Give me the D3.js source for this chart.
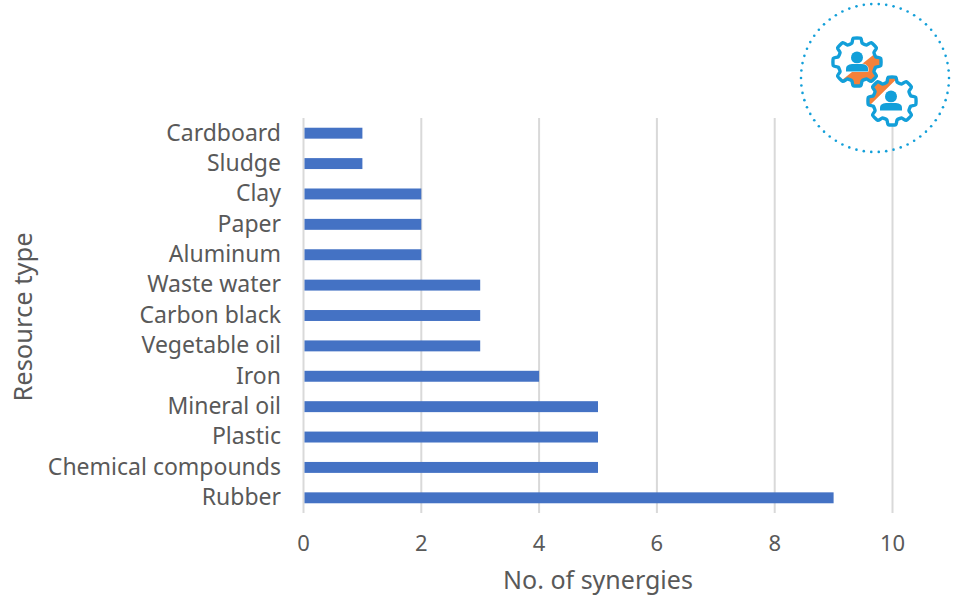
<!DOCTYPE html>
<html>
<head>
<meta charset="utf-8">
<script src="https://cdn.jsdelivr.net/npm/d3@7"></script>
<style>
  html, body { margin: 0; padding: 0; background: #fff; }
  svg { display: block; }
  text { font-family: "Noto Sans", "Open Sans", sans-serif; fill: #595959; }
</style>
</head>
<body>
<svg id="chart"></svg>
<script>
const resources = ["Cardboard", "Sludge", "Clay", "Paper", "Aluminum", "Waste water", "Carbon black",
  "Vegetable oil", "Iron", "Mineral oil", "Plastic", "Chemical compounds", "Rubber"];
const synergies = [1, 1, 2, 2, 2, 3, 3, 3, 4, 5, 5, 5, 9];
const xTicks = [0, 2, 4, 6, 8, 10];

const width = 953;
const height = 595;
const margin = { top: 118, right: 60.5, bottom: 82, left: 303.5 };

const svg = d3.select("#chart").attr("width", width).attr("height", height);

const xScale = d3.scaleLinear().domain([0, 10]).range([margin.left, width - margin.right]);
const yScale = d3.scaleBand().domain(resources).range([margin.top, height - margin.bottom]).paddingInner(0.64).paddingOuter(0.32);

// gridlines
svg.append("g").selectAll("line")
  .data(xTicks)
  .enter()
  .append("line")
  .attr("x1", d => xScale(d))
  .attr("x2", d => xScale(d))
  .attr("y1", margin.top)
  .attr("y2", height - margin.bottom)
  .attr("stroke", "#d9d9d9")
  .attr("stroke-width", 2);

// bars
svg.append("g").selectAll("rect")
  .data(resources)
  .enter()
  .append("rect")
  .attr("x", xScale(0) + 1)
  .attr("y", d => yScale(d))
  .attr("width", (d, i) => xScale(synergies[i]) - xScale(0) - 1)
  .attr("height", yScale.bandwidth())
  .attr("fill", "#4472c4");

// category labels
svg.append("g").selectAll("text")
  .data(resources)
  .enter()
  .append("text")
  .attr("x", 281)
  .attr("y", d => yScale(d) + yScale.bandwidth() / 2)
  .attr("dy", "0.32em")
  .attr("text-anchor", "end")
  .attr("font-size", 23)
  .text(d => d);

// x tick labels
svg.append("g").selectAll("text")
  .data(xTicks)
  .enter()
  .append("text")
  .attr("x", d => xScale(d))
  .attr("y", 551)
  .attr("text-anchor", "middle")
  .attr("font-size", 22)
  .text(d => d);

// axis titles
svg.append("text")
  .attr("x", 598)
  .attr("y", 589)
  .attr("text-anchor", "middle")
  .attr("font-size", 25)
  .text("No. of synergies");

svg.append("text")
  .attr("transform", "translate(32,317) rotate(-90)")
  .attr("text-anchor", "middle")
  .attr("font-size", 25.5)
  .text("Resource type");

// ICON
const blue = "#129fd9";
const orange = "#f5813a";
const icon = svg.append("g");

const ringCx = 875, ringCy = 78, ringR = 74;
const dotCount = 62;
icon.append("g").selectAll("circle")
  .data(d3.range(dotCount))
  .enter()
  .append("circle")
  .attr("cx", i => ringCx + ringR * Math.cos(i / dotCount * 2 * Math.PI))
  .attr("cy", i => ringCy + ringR * Math.sin(i / dotCount * 2 * Math.PI))
  .attr("r", 1.3)
  .attr("fill", blue);

// rounded gear outline, 8 teeth
function gearPath(outer, inner, phase) {
  const teeth = 8;
  const pts = [];
  for (let i = 0; i < teeth; i++) {
    const a = phase + i / teeth * 2 * Math.PI;
    const step = 2 * Math.PI / teeth;
    pts.push([inner, a - step * 0.34], [outer, a - step * 0.2], [outer, a + step * 0.2], [inner, a + step * 0.34]);
  }
  return d3.lineRadial().radius(d => d[0]).angle(d => d[1]).curve(d3.curveCardinalClosed.tension(0.4))(pts);
}

const defs = svg.append("defs");
const gear = gearPath(24, 19.5, 0);

function drawGear(id, cx, cy, band, shiftX) {
  defs.append("clipPath").attr("id", id).append("path").attr("d", gear);
  const g = icon.append("g").attr("transform", `translate(${cx},${cy})`);
  g.append("path").attr("d", gear).attr("fill", "#fff");
  g.append("g").attr("clip-path", `url(#${id})`)
    .append("polygon").attr("points", band).attr("fill", orange);
  g.append("path").attr("d", gear).attr("fill", "none").attr("stroke", blue).attr("stroke-width", 3.4);
  // person
  g.append("circle").attr("cx", shiftX).attr("cy", -4.5).attr("r", 6).attr("fill", blue);
  g.append("path")
    .attr("transform", `translate(${shiftX},0)`)
    .attr("d", "M-11,9.5 v-3 q0,-4 6,-4.5 h10 q6,0.5 6,4.5 v3 z")
    .attr("fill", blue)
    .attr("stroke", "#fff")
    .attr("stroke-width", 1)
    .attr("paint-order", "stroke");
}

drawGear("gearA", 857, 62, "-30,30 30,-18 30,34 -30,34", 0);
drawGear("gearB", 892, 101, "-30,-43 30,-43 30,-47 -30,12", -1);
</script>
</body>
</html>
